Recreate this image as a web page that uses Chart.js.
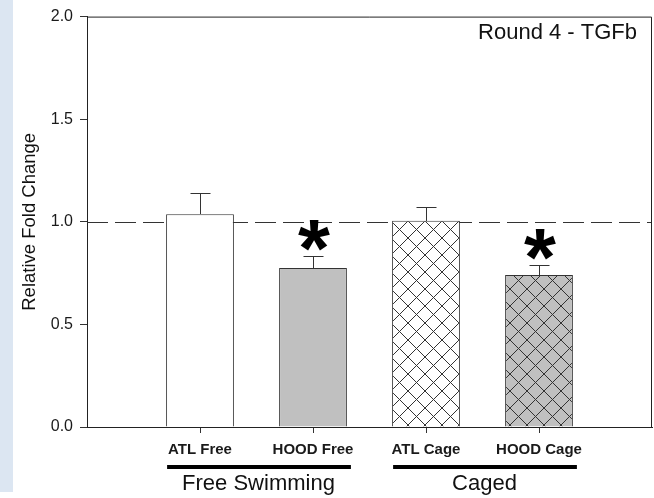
<!DOCTYPE html>
<html>
<head>
<meta charset="utf-8">
<script src="https://cdn.jsdelivr.net/npm/chart.js@4.4.1/dist/chart.umd.min.js"></script>
<style>
  html, body { margin: 0; padding: 0; background: #fff; }
  #strip { position: absolute; left: 0; top: 0; width: 13px; height: 492px; background: #dce6f2; }
  canvas { position: absolute; left: 0; top: 0; }
</style>
</head>
<body>
<div id="strip"></div>
<canvas id="chart" width="654" height="498"></canvas>
<script>
// data
const categories = ['', 'ATL Free', 'HOOD Free', 'ATL Cage', 'HOOD Cage', ''];
const foldChange = [null, 1.037, 0.775, 1.005, 0.741, null];
const errorUp = [null, 0.105, 0.057, 0.068, 0.050, null];
const significant = [false, false, true, false, true, false];
const yTicks = [0, 0.5, 1.0, 1.5, 2.0];
const referenceLevel = 1.0;
const groupLabels = ['Free Swimming', 'Caged'];
const groupMembers = [[1, 2], [3, 4]];
const panelTitle = 'Round 4 - TGFb';

const FONT = "'Liberation Sans', Arial, sans-serif";
const INK = '#1a1a1a';

// cross hatch fill for the caged bars
function hatch(bg) {
    const c = document.createElement('canvas');
    c.width = 17; c.height = 17;
    const g = c.getContext('2d');
    g.fillStyle = bg;
    g.fillRect(0, 0, 17, 17);
    g.strokeStyle = '#333';
    g.lineWidth = 1;
    g.beginPath();
    for (const k of [-17, 0, 17]) {
        g.moveTo(k, 0); g.lineTo(k + 17, 17);
        g.moveTo(k + 17, 0); g.lineTo(k, 17);
    }
    g.stroke();
    return g.createPattern(c, 'repeat');
}

const barFills = [null, '#ffffff', '#c0c0c0', hatch('#ffffff'), hatch('#c0c0c0'), null];

//draws the dashed 1.0 line, error bars, stars, frame, title and the group bars under the axis
const decorations = {
    id: 'decorations',
    beforeDatasetsDraw(chart) {
        const {ctx, chartArea} = chart;
        const y = Math.round(chart.scales.y.getPixelForValue(referenceLevel)) + 0.5;
        ctx.save();
        ctx.strokeStyle = '#333';
        ctx.lineWidth = 1;
        ctx.setLineDash([21, 7]);
        ctx.beginPath();
        ctx.moveTo(chartArea.left, y);
        ctx.lineTo(chartArea.right, y);
        ctx.stroke();
        ctx.restore();
    },
    afterDatasetsDraw(chart) {
        const {ctx, chartArea} = chart;
        const yScale = chart.scales.y;
        const bars = chart.getDatasetMeta(0).data;
        ctx.save();
        ctx.strokeStyle = '#333';
        ctx.lineWidth = 1;
        for (let i = 0; i < foldChange.length; i++) {
            if (foldChange[i] === null) continue;
            const x = Math.round(bars[i].x) + 0.5;
            const yTop = Math.round(yScale.getPixelForValue(foldChange[i]));
            const yCap = Math.round(yScale.getPixelForValue(foldChange[i] + errorUp[i])) + 0.5;
            ctx.beginPath();
            ctx.moveTo(x, yTop);
            ctx.lineTo(x, yCap);
            ctx.moveTo(x - 10, yCap);
            ctx.lineTo(x + 10, yCap);
            ctx.stroke();
            if (significant[i]) {
                ctx.font = 'bold 82px ' + FONT;
                ctx.fillStyle = '#000';
                ctx.textAlign = 'center';
                ctx.textBaseline = 'alphabetic';
                const m = ctx.measureText('*');
                const h = m.actualBoundingBoxAscent + m.actualBoundingBoxDescent;
                const bottom = yCap - 6;
                ctx.fillText('*', bars[i].x + 1, bottom - h + m.actualBoundingBoxAscent);
            }
        }
        // top and right frame
        ctx.strokeStyle = '#222';
        ctx.beginPath();
        ctx.moveTo(chartArea.left, chartArea.top + 0.5);
        ctx.lineTo(chartArea.right - 0.5, chartArea.top + 0.5);
        ctx.lineTo(chartArea.right - 0.5, chartArea.bottom);
        ctx.stroke();

        ctx.fillStyle = '#111';
        ctx.font = '22px ' + FONT;
        ctx.textAlign = 'right';
        ctx.textBaseline = 'alphabetic';
        ctx.fillText(panelTitle, chartArea.right - 15, chartArea.top + 22);

        // group lines and labels under the category labels
        for (let g = 0; g < groupLabels.length; g++) {
            const first = bars[groupMembers[g][0]];
            const last = bars[groupMembers[g][groupMembers[g].length - 1]];
            const x0 = first.x - first.width / 2 + 1;
            const x1 = last.x + last.width / 2 + 4;
            ctx.fillStyle = '#000';
            ctx.fillRect(x0, 465, x1 - x0, 4);
            ctx.font = '22px ' + FONT;
            ctx.textAlign = 'center';
            ctx.fillStyle = '#111';
            ctx.fillText(groupLabels[g], (first.x + last.x) / 2 + 2, 490);
        }
        ctx.restore();
    }
};

new Chart(document.getElementById('chart'), {
    type: 'bar',
    data: {
        labels: categories,
        datasets: [{
            data: foldChange,
            backgroundColor: barFills,
            borderColor: '#333',
            borderWidth: 1,
            barPercentage: 0.6,
            categoryPercentage: 1.0
        }]
    },
    options: {
        responsive: false,
        animation: false,
        layout: { padding: { left: 0, top: 15, right: 2, bottom: 0 } },
        plugins: {
            legend: { display: false },
            tooltip: { enabled: false }
        },
        scales: {
            x: {
                offset: false,
                afterFit: function(scale) {
                    scale.height = 71;
                    scale.paddingLeft = 0;
                    scale.paddingRight = 0;
                },
                grid: {
                    offset: false,
                    drawOnChartArea: false,
                    tickLength: 6,
                    tickColor: function(c) {
                        return categories[c.index] === '' ? 'rgba(0,0,0,0)' : '#333';
                    }
                },
                border: { display: true, color: '#222', width: 1 },
                ticks: {
                    autoSkip: false,
                    maxRotation: 0,
                    padding: 8,
                    color: INK,
                    font: { family: FONT, size: 15, weight: 'bold' }
                }
            },
            y: {
                min: 0,
                max: 2,
                afterFit: function(scale) { scale.width = 87; },
                afterBuildTicks: function(scale) {
                    scale.ticks = yTicks.map(v => ({ value: v }));
                },
                grid: {
                    drawOnChartArea: false,
                    tickLength: 7,
                    tickColor: '#333'
                },
                border: { display: true, color: '#222', width: 1 },
                ticks: {
                    padding: 7,
                    color: INK,
                    font: { family: FONT, size: 16 },
                    callback: function(value) {
                        return value.toFixed(1);
                    }
                },
                title: {
                    display: true,
                    text: 'Relative Fold Change',
                    color: '#111',
                    padding: { top: 19, bottom: 0 },
                    font: { family: FONT, size: 18.5 }
                }
            }
        }
    },
    plugins: [decorations]
});
</script>
</body>
</html>
